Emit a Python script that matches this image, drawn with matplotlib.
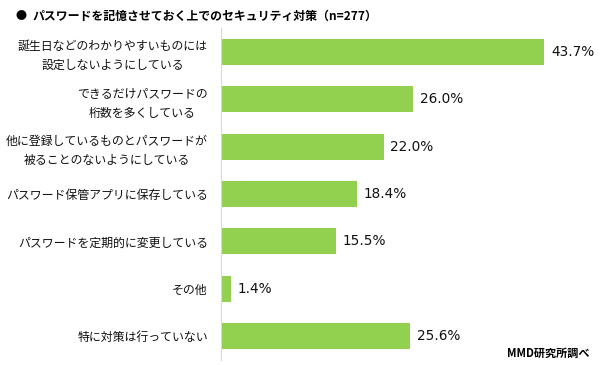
import matplotlib.pyplot as plt

plt.rcParams['font.family'] = ['Noto Sans CJK JP', 'DejaVu Sans']

labels = ['誕生日などのわかりやすいものには\n設定しないようにしている',
          'できるだけパスワードの\n桁数を多くしている',
          '他に登録しているものとパスワードが\n被ることのないようにしている',
          'パスワード保管アプリに保存している',
          'パスワードを定期的に変更している',
          'その他',
          '特に対策は行っていない']
values = [43.7, 26.0, 22.0, 18.4, 15.5, 1.4, 25.6]

fig = plt.figure(figsize=(6.02, 3.65), dpi=100)
ax = fig.add_axes([221/602, 5/365, 370/602, 332/365])

pos = list(range(len(values)))
ax.barh(pos, values, height=0.55, color='#92D050')
for p, v in zip(pos, values):
    ax.text(v + 0.9, p, f'{v:.1f}%', va='center', ha='left',
            fontsize=9.8, family='DejaVu Sans', color='#111111')

ax.set_xlim(0, 50)
ax.set_ylim(len(values) - 0.5, -0.5)
ax.set_yticks(pos)
ax.set_yticklabels(labels, fontsize=8.6, multialignment='center',
                   linespacing=1.6, color='#111111')
ax.tick_params(axis='y', length=0, pad=9.5)
ax.set_xticks([])
for s in ['top', 'right', 'bottom']:
    ax.spines[s].set_visible(False)
ax.spines['left'].set_color('#d9d9d9')

fig.text(15/602, 1 - 16/365, '●', fontsize=8, va='center', ha='left')
fig.text(33/602, 1 - 16/365, 'パスワードを記憶させておく上でのセキュリティ対策（n=277）',
         fontsize=8.6, fontweight='bold', va='center', ha='left')
fig.text(590/602, 1 - 353/365, 'MMD研究所調べ', fontsize=8, fontweight='bold',
         va='center', ha='right')

fig.savefig('out.png', dpi=100)
